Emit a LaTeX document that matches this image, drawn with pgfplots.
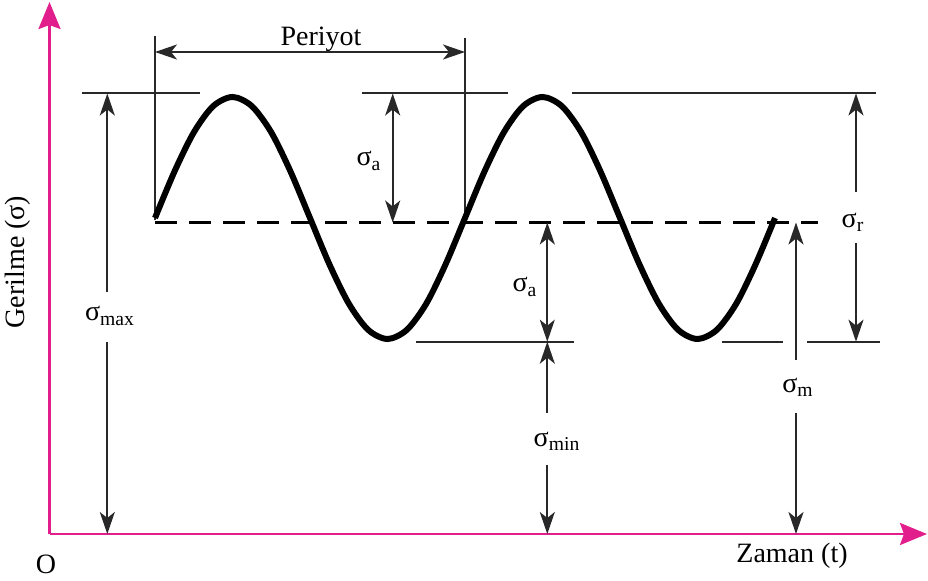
\documentclass[border=0pt]{standalone}
\usepackage{fontspec}
\setmainfont{Liberation Serif}
\usepackage{pgfplots}
\usepackage{pgfplotstable}
\pgfplotsset{compat=1.18}
\usetikzlibrary{arrows.meta}

\definecolor{axmag}{RGB}{226,30,140}
\definecolor{guide}{RGB}{40,40,40}

% Stress history: two periods of a sinusoid about the mean stress
\pgfplotstableread{
t      s
155.0  362.0
174.4  408.3
193.8  447.6
213.1  473.8
232.5  483.0
251.9  473.8
271.3  447.6
290.6  408.3
310.0  362.0
329.4  315.7
348.8  276.4
368.1  250.2
387.5  241.0
406.9  250.2
426.3  276.4
445.6  315.7
465.0  362.0
484.4  408.3
503.8  447.6
523.1  473.8
542.5  483.0
561.9  473.8
581.3  447.6
600.6  408.3
620.0  362.0
639.4  315.7
658.8  276.4
678.1  250.2
697.5  241.0
716.9  250.2
736.3  276.4
755.6  315.7
775.0  362.0
}\stresscurve

\tikzset{
  lbl/.style={font=\fontsize{14}{17}\selectfont, inner sep=0pt},
  tipk/.tip={Stealth[length=11pt,width=7.5pt,inset=3pt]},
  tipm/.tip={Stealth[length=13.5pt,width=11pt,inset=2pt]},
}

\begin{document}
\begin{tikzpicture}
\begin{axis}[
  name=ax,
  width=464pt, height=290pt, scale only axis,
  xmin=0, xmax=928, ymin=0, ymax=580,
  hide axis, clip=false,
]
% coordinate axes
\addplot[axmag, line width=1.3pt, -tipm] coordinates {(49.5,46) (49.5,578)};
\addplot[axmag, line width=1.3pt, -tipm] coordinates {(49.5,46) (927,46)};

% mean stress (dashed)
\addplot[black, line width=1.2pt, dash pattern=on 11pt off 6pt] coordinates {(155,357.5) (818,357.5)};

% max / min reference lines
\addplot[guide, line width=1pt] coordinates {(82,486.5) (200,486.5)};
\addplot[guide, line width=1pt] coordinates {(362,486.5) (508,486.5)};
\addplot[guide, line width=1pt] coordinates {(572,486.5) (876,486.5)};
\addplot[guide, line width=1pt] coordinates {(416,238.3) (574,238.3)};
\addplot[guide, line width=1pt] coordinates {(722,238.3) (783,238.3)};
\addplot[guide, line width=1pt] coordinates {(807,238.3) (880,238.3)};

% period markers
\addplot[guide, line width=1pt] coordinates {(155,544) (155,360)};
\addplot[guide, line width=1pt] coordinates {(465,542) (465,357.5)};
\addplot[guide, line width=1pt, tipk-tipk] coordinates {(155,528) (465,528)};

% sigma_max
\addplot[guide, line width=1pt, -tipk] coordinates {(107.3,288) (107.3,486.5)};
\addplot[guide, line width=1pt, -tipk] coordinates {(107.3,238) (107.3,46)};

% sigma_a (upper and lower)
\addplot[guide, line width=1pt, tipk-tipk] coordinates {(392.7,357.5) (392.7,486.5)};
\addplot[guide, line width=1pt, tipk-tipk] coordinates {(547.3,357.5) (547.3,238.3)};

% sigma_min
\addplot[guide, line width=1pt, -tipk] coordinates {(547.3,167) (547.3,238.3)};
\addplot[guide, line width=1pt, -tipk] coordinates {(547.3,115) (547.3,46)};

% sigma_m
\addplot[guide, line width=1pt, -tipk] coordinates {(796,220) (796,357.5)};
\addplot[guide, line width=1pt, -tipk] coordinates {(796,167) (796,46)};

% sigma_r
\addplot[guide, line width=1pt, -tipk] coordinates {(856,388) (856,486.5)};
\addplot[guide, line width=1pt, -tipk] coordinates {(856,337) (856,238.3)};

% stress curve
\addplot[black, line width=3pt, smooth] table[x=t, y=s] {\stresscurve};

% labels
\node[lbl] at (axis cs:321,541) {Periyot};
\node[lbl] at (axis cs:110,264) {σ\textsubscript{max}};
\node[lbl] at (axis cs:369,419) {σ\textsubscript{a}};
\node[lbl] at (axis cs:525,293) {σ\textsubscript{a}};
\node[lbl] at (axis cs:557,139) {σ\textsubscript{min}};
\node[lbl] at (axis cs:798,193) {σ\textsubscript{m}};
\node[lbl] at (axis cs:853,358) {σ\textsubscript{r}};
\node[lbl] at (axis cs:792,24) {Zaman (t)};
\node[lbl] at (axis cs:46,16) {O};
\node[lbl, rotate=90] at (axis cs:18,318) {Gerilme (σ)};
\end{axis}
\pgfresetboundingbox
\path[use as bounding box] (ax.south west) rectangle (ax.north east);
\end{tikzpicture}
\end{document}
